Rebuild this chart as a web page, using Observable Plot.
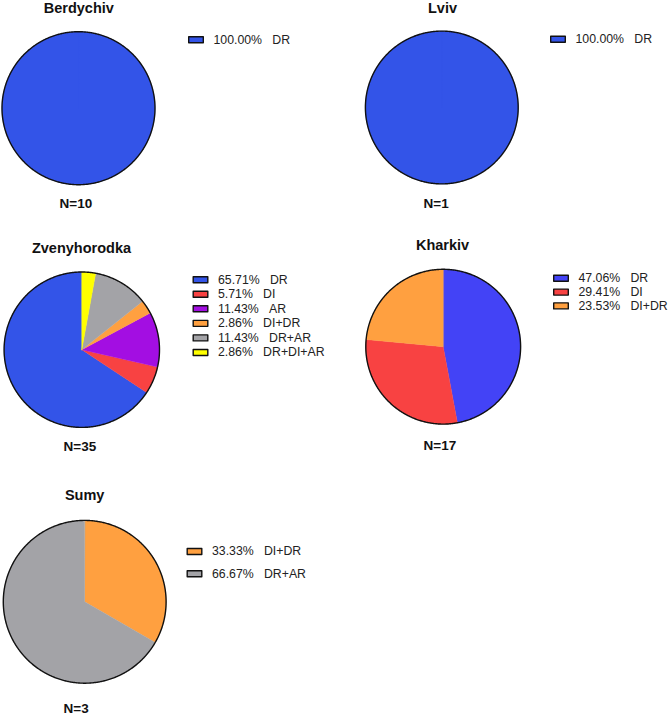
<!DOCTYPE html>
<html>
<head>
<meta charset="utf-8">
<script src="https://cdn.jsdelivr.net/npm/d3@7"></script>
<script src="https://cdn.jsdelivr.net/npm/@observablehq/plot@0.6"></script>
<style>
  html, body { margin: 0; padding: 0; background: #fff; }
  #chart svg { display: block; }
</style>
</head>
<body>
<div id="chart"></div>
<script>
// Resistance profile shares (%) by city, with sample sizes
const regions = ["Berdychiv", "Lviv", "Zvenyhorodka", "Kharkiv", "Sumy"];
const sampleSizes = [10, 1, 35, 17, 3];

const berdychivTypes = ["DR"];
const berdychivShares = [100];

const lvivTypes = ["DR"];
const lvivShares = [100];

const zvenyhorodkaTypes = ["DR", "DI", "AR", "DI+DR", "DR+AR", "DR+DI+AR"];
const zvenyhorodkaShares = [65.71, 5.71, 11.43, 2.86, 11.43, 2.86];

const kharkivTypes = ["DR", "DI", "DI+DR"];
const kharkivShares = [47.06, 29.41, 23.53];

const sumyTypes = ["DI+DR", "DR+AR"];
const sumyShares = [33.33, 66.67];

// Fill colours per profile
const palette = {
  "DR": "#3354e8",
  "DI": "#f84242",
  "AR": "#a30ee2",
  "DI+DR": "#ffa040",
  "DR+AR": "#a3a3a7",
  "DR+DI+AR": "#ffff00"
};
const kharkivPalette = {...palette, "DR": "#4343f6"};

// Panel layout (pixels): pie centre/radius, winding, label and legend anchors
const layout = [
  {cx: 78.0, cy: 107.7, r: 76.5, dir: 1, titleX: 78.3, titleY: 8, nX: 59, nY: 203, lx: 187.5, ly: 39.2, gap: 14.5, pal: palette},
  {cx: 441.3, cy: 107.0, r: 76.4, dir: 1, titleX: 442, titleY: 7.6, nX: 423, nY: 202.8, lx: 549.5, ly: 38.7, gap: 14.5, pal: palette},
  {cx: 81.3, cy: 349.2, r: 77.7, dir: -1, titleX: 81, titleY: 248, nX: 63, nY: 446.3, lx: 192, ly: 279.2, gap: 14.55, pal: palette},
  {cx: 442.7, cy: 346.2, r: 77.4, dir: 1, titleX: 442, titleY: 245, nX: 423, nY: 445, lx: 552.5, ly: 277.8, gap: 13.8, pal: kharkivPalette},
  {cx: 84.2, cy: 601.3, r: 81.4, dir: 1, titleX: 84.2, titleY: 495, nX: 63, nY: 708.6, lx: 186, ly: 551, gap: 22.3, pal: palette}
];

const typesByRegion = [berdychivTypes, lvivTypes, zvenyhorodkaTypes, kharkivTypes, sumyTypes];
const sharesByRegion = [berdychivShares, lvivShares, zvenyhorodkaShares, kharkivShares, sumyShares];

// Ring of points along a circular arc, angle measured clockwise from 12 o'clock
function arcPoints(cx, cy, r, a0, a1) {
  const n = Math.max(2, Math.ceil(Math.abs(a1 - a0) / 0.01));
  return d3.range(n + 1).map(i => {
    const a = a0 + (a1 - a0) * i / n;
    return [cx + r * Math.sin(a), cy - r * Math.cos(a)];
  });
}

const slices = [];
const outlines = [];
const swatches = [];
const legendLabels = [];
const titles = [];
const nLabels = [];

regions.forEach((region, k) => {
  const L = layout[k];
  const types = typesByRegion[k];
  const shares = sharesByRegion[k];
  const total = d3.sum(shares);
  let acc = 0;
  types.forEach((type, i) => {
    const a0 = L.dir * 2 * Math.PI * acc / total;
    acc += shares[i];
    const a1 = L.dir * 2 * Math.PI * acc / total;
    const ring = [[L.cx, L.cy], ...arcPoints(L.cx, L.cy, L.r, a0, a1), [L.cx, L.cy]];
    slices.push({type: "Feature", properties: {color: L.pal[type]}, geometry: {type: "Polygon", coordinates: [ring]}});

    const y = L.ly + i * L.gap;
    const x0 = L.lx + 0.7, x1 = L.lx + 15.3, y0 = y - 3, y1 = y + 3;
    swatches.push({type: "Feature", properties: {color: L.pal[type]},
      geometry: {type: "Polygon", coordinates: [[[x0, y0], [x1, y0], [x1, y1], [x0, y1], [x0, y0]]]}});
    legendLabels.push({x: L.lx + 25.5, y, text: `${shares[i].toFixed(2)}%\u00a0\u00a0\u00a0${type}`});
  });
  const circle = arcPoints(L.cx, L.cy, L.r, 0, 2 * Math.PI);
  outlines.push({type: "Feature", properties: {}, geometry: {type: "Polygon", coordinates: [circle]}});
  titles.push({x: L.titleX, y: L.titleY, text: region});
  nLabels.push({x: L.nX, y: L.nY, text: `N=${sampleSizes[k]}`});
});

const chart = Plot.plot({
  width: 669,
  height: 715,
  margin: 0,
  projection: "identity",
  style: {fontFamily: "'Liberation Sans', Arial, sans-serif", background: "#fff"},
  marks: [
    Plot.geo(slices, {fill: d => d.properties.color, stroke: d => d.properties.color, strokeWidth: 0.4}),
    Plot.geo(outlines, {fill: "none", stroke: "#111", strokeWidth: 1.4}),
    Plot.geo(swatches, {fill: d => d.properties.color, stroke: "#111", strokeWidth: 1.4}),
    Plot.text(legendLabels, {x: "x", y: "y", text: "text", textAnchor: "start", fontSize: 12.3, fill: "#222"}),
    Plot.text(titles, {x: "x", y: "y", text: "text", textAnchor: "middle", fontSize: 14.5, fontWeight: "bold", fill: "#111"}),
    Plot.text(nLabels, {x: "x", y: "y", text: "text", textAnchor: "start", fontSize: 13.5, fontWeight: "bold", fill: "#111"})
  ]
});

document.getElementById("chart").appendChild(chart);
</script>
</body>
</html>
